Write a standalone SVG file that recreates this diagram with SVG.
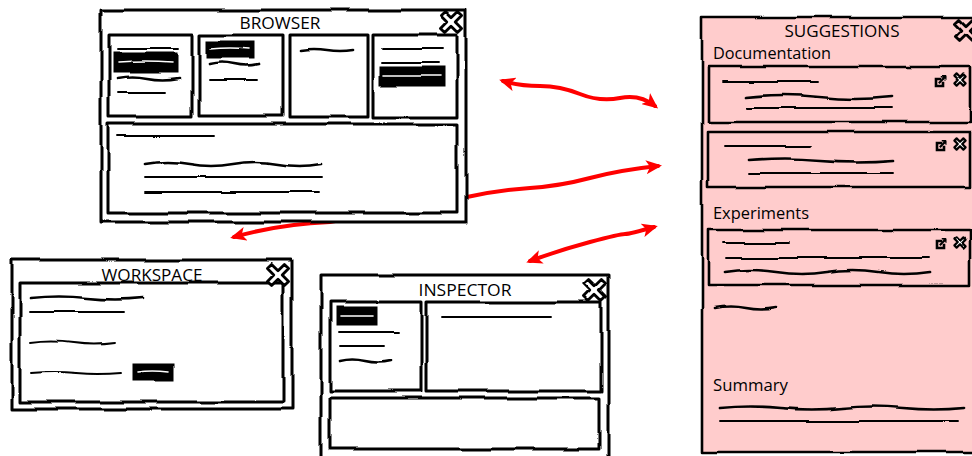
<svg xmlns="http://www.w3.org/2000/svg" xmlns:xlink="http://www.w3.org/1999/xlink" width="972" height="456" viewBox="0 0 972 456">
<style>
.win{fill:#fff;stroke:#000;stroke-width:3;stroke-linejoin:round}
.pink{fill:#ffcccc;stroke:#000;stroke-width:2.6;stroke-linejoin:round}
.ln{fill:none;stroke:#000;stroke-width:1.9;stroke-linecap:round}
.thk{fill:none;stroke:#000;stroke-width:2.7;stroke-linecap:round}
.bar{fill:#000;stroke:#000;stroke-width:1}
.wl{fill:none;stroke:#fff;stroke-width:1.6;stroke-linecap:round}
.title{font-family:"Open Sans","DejaVu Sans",sans-serif;font-size:16px;fill:#000;text-anchor:middle}
.head{font-family:"Open Sans","DejaVu Sans",sans-serif;font-size:16px;fill:#000}
.arrow{fill:none;stroke:#ff0000;stroke-width:4;stroke-linecap:round;marker-start:url(#ah);marker-end:url(#ah)}
</style>
<defs>
<filter id="rough" filterUnits="userSpaceOnUse" x="-20" y="-20" width="1020" height="500">
<feTurbulence type="fractalNoise" baseFrequency="0.022" numOctaves="1" seed="5"/>
<feDisplacementMap in="SourceGraphic" scale="4.5" xChannelSelector="R" yChannelSelector="G"/>
</filter>
<marker id="ah" viewBox="0 0 16 14" refX="12" refY="7" markerWidth="16" markerHeight="14" markerUnits="userSpaceOnUse" orient="auto-start-reverse">
<path d="M0,0 L16,7 L0,14 L4,7 z" fill="#ff0000"/>
</marker>
<path id="close" d="M-6.4,-10.6 L0,-4.2 L6.4,-10.6 L10.6,-6.4 L4.2,0 L10.6,6.4 L6.4,10.6 L0,4.2 L-6.4,10.6 L-10.6,6.4 L-4.2,0 L-10.6,-6.4 Z" stroke="#000" stroke-width="2.8" stroke-linejoin="round"/>
<path id="xs" d="M-3.4,-5.6 L0,-2.2 L3.4,-5.6 L5.6,-3.4 L2.2,0 L5.6,3.4 L3.4,5.6 L0,2.2 L-3.4,5.6 L-5.6,3.4 L-2.2,0 L-5.6,-3.4 Z" fill="#fff" stroke="#000" stroke-width="2.2" stroke-linejoin="round"/>
<g id="edit" fill="none" stroke="#000" stroke-linecap="square">
<path d="M0,-2 H-4 V5 H3 V2" stroke-width="2.6"/>
<path d="M-0.5,1.5 L4,-3" stroke-width="2"/>
<path d="M1.5,-4.5 L5,-4.5 L5,-1 Z" fill="#000" stroke-width="1"/>
</g>
</defs>

<g id="connectors">
<path class="arrow" d="M503,81 Q520,86 540,86 T580,94 T620,98 T655,106"/>
<path class="arrow" d="M234,237 Q280,224 330,222 L467,197 Q500,190 530,188 T590,178 T658,166"/>
<path class="arrow" d="M530,261 Q560,250 590,242 T625,234 T654,227"/>
</g>

<g id="browser">
<g filter="url(#rough)">
<rect class="win" x="101" y="10" width="365" height="212"/>
<rect class="win" x="109" y="35" width="83" height="82"/>
<rect class="win" x="199" y="35" width="84" height="81"/>
<rect class="win" x="290" y="35" width="78" height="82"/>
<rect class="win" x="373" y="35" width="84" height="82"/>
<rect class="win" x="108" y="124" width="349" height="89"/>
<path class="ln" d="M117,49 L178,49"/>
<rect class="bar" x="113" y="53" width="64" height="20"/>
<path class="wl" d="M118,63 Q145,61 172,63"/>
<path class="thk" d="M117,79 q15,-3 30,0 t32,0"/>
<path class="ln" d="M118,93 L166,93"/>
<rect class="bar" x="206" y="41" width="49" height="17"/>
<path class="wl" d="M210,49 q20,-2 40,0"/>
<path class="thk" d="M209,64 q12,-3 25,0 t25,0"/>
<path class="ln" d="M209,80 L257,80"/>
<path class="thk" d="M301,50 q13,-2 26,0 t26,0"/>
<path class="ln" d="M382,49 L443,49"/>
<path class="ln" d="M382,63 L438,63"/>
<rect class="bar" x="380" y="67" width="64" height="19"/>
<path class="wl" d="M384,76 L440,76"/>
<path class="ln" d="M117,136 L214,136"/>
<path class="thk" d="M145,164 q22,-4 44,0 t44,0 t44,0 t44,0"/>
<path class="ln" d="M145,177 L322,177"/>
<path class="ln" d="M145,192 L319,192"/>
<use xlink:href="#close" x="452" y="22" fill="#fff"/>
</g>
<text class="title" x="280" y="29" textLength="81" lengthAdjust="spacingAndGlyphs">BROWSER</text>
</g>

<g id="workspace">
<g filter="url(#rough)">
<rect class="win" x="12" y="260" width="280" height="149"/>
<rect class="win" x="20" y="283" width="263" height="119"/>
<path class="thk" d="M31,298 q28,-3 56,0 t56,0"/>
<path class="ln" d="M30,312 L125,312"/>
<path class="ln" d="M31,342 q21,-3 42,0 t42,0"/>
<path class="ln" d="M31,373 q23,-2 45,0 t45,0"/>
<rect class="bar" x="133" y="364" width="41" height="17"/>
<path class="wl" d="M138,372 q15,-2 31,0"/>
<use xlink:href="#close" x="278" y="275" fill="#fff"/>
</g>
<text class="title" x="152" y="281" textLength="101" lengthAdjust="spacingAndGlyphs">WORKSPACE</text>
</g>

<g id="inspector">
<g filter="url(#rough)">
<rect class="win" x="321" y="275" width="287" height="195"/>
<rect class="win" x="330" y="302" width="92" height="89"/>
<rect class="win" x="427" y="302" width="174" height="89"/>
<rect class="win" x="330" y="398" width="269" height="51"/>
<rect class="bar" x="336" y="307" width="41" height="18"/>
<path class="wl" d="M340,316 L373,316"/>
<path class="ln" d="M339,332 L398,332"/>
<path class="ln" d="M340,346 L384,346"/>
<path class="thk" d="M340,361 q12,-3 25,0 t26,0"/>
<path class="ln" d="M442,317 L551,317"/>
<use xlink:href="#close" x="595" y="290" fill="#fff"/>
</g>
<text class="title" x="465" y="296" textLength="93" lengthAdjust="spacingAndGlyphs">INSPECTOR</text>
</g>

<g id="suggestions">
<g filter="url(#rough)">
<rect class="pink" x="702" y="17" width="290" height="435"/>
<rect class="pink" x="708" y="67" width="262" height="55"/>
<rect class="pink" x="708" y="132" width="262" height="55"/>
<rect class="pink" x="708" y="230" width="262" height="55"/>
<path class="ln" d="M723,82 L818,82"/>
<path class="thk" d="M747,97 q36,-4 72,0 t73,0"/>
<path class="ln" d="M747,108 L892,108"/>
<path class="ln" d="M725,146 L811,146"/>
<path class="thk" d="M749,160 q36,-3 72,0 t72,0"/>
<path class="ln" d="M749,173 L892,173"/>
<path class="ln" d="M724,243 L789,243"/>
<path class="ln" d="M727,258 L929,258"/>
<path class="thk" d="M725,272 q25,-4 51,0 t51,0 t51,0 t52,0"/>
<path class="thk" d="M715,308 q15,-3 30,0 t30,0"/>
<path class="thk" d="M720,408 q30,-3 61,0 t61,0 t61,0 t61,0"/>
<path class="ln" d="M720,421 L959,421"/>
<use xlink:href="#close" x="966" y="30" fill="#ffcccc"/>
<use xlink:href="#edit" x="941" y="81"/>
<use xlink:href="#xs" x="960" y="80"/>
<use xlink:href="#edit" x="941" y="145"/>
<use xlink:href="#xs" x="960" y="144"/>
<use xlink:href="#edit" x="941" y="244"/>
<use xlink:href="#xs" x="960" y="243"/>
</g>
<text class="title" x="842" y="37" textLength="115" lengthAdjust="spacingAndGlyphs">SUGGESTIONS</text>
<text class="head" x="713" y="59" textLength="118" lengthAdjust="spacingAndGlyphs">Documentation</text>
<text class="head" x="713" y="219" textLength="96" lengthAdjust="spacingAndGlyphs">Experiments</text>
<text class="head" x="713" y="391" textLength="75" lengthAdjust="spacingAndGlyphs">Summary</text>
</g>
</svg>
